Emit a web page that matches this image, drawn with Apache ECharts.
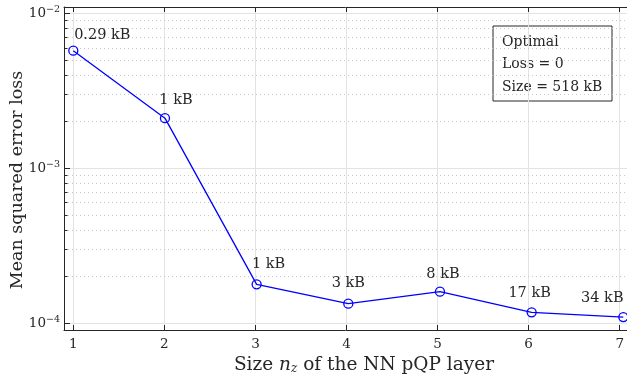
<!DOCTYPE html>
<html>
<head>
<meta charset="utf-8">
<script src="https://cdn.jsdelivr.net/npm/echarts@6/dist/echarts.min.js"></script>
<style>html,body{margin:0;padding:0;background:#fff}#c{width:627px;height:379px}</style>
</head>
<body>
<div id="c"></div>
<script>
// ---- data ----
var layerSizes = [1, 2, 3, 4, 5, 6, 7];
var mseLoss = [5.73e-3, 2.10e-3, 1.77e-4, 1.327e-4, 1.586e-4, 1.167e-4, 1.088e-4];
var sizeLabels = ['0.29 kB', '1 kB', '1 kB', '3 kB', '8 kB', '17 kB', '34 kB'];
var minorValues = [2e-4, 3e-4, 4e-4, 5e-4, 6e-4, 7e-4, 8e-4, 9e-4, 2e-3, 3e-3, 4e-3, 5e-3, 6e-3, 7e-3, 8e-3, 9e-3];
var boxLines = ['Optimal', 'Loss = 0', 'Size = 518 kB'];
var xTitle = '{a|Size }{i|n}{s|z}{a| of the NN pQP layer}';
var yTitle = 'Mean squared error loss';

// ---- layout ----
var labelOffsets = [[29, -15], [11, -18], [12, -20], [0, -20], [3, -17], [-2, -19], [-21, -18.5]];
var X_MIN = 1, X_MAX = 7;
var FONT = 'DejaVu Serif';
var TXT = '#262626';
var PL = 73.3, PW = 550;

var chart = echarts.init(document.getElementById('c'), null, {renderer: 'canvas'});

var lineData = layerSizes.map(function (x, i) {
  return {
    value: [x, mseLoss[i]],
    label: {show: true, formatter: sizeLabels[i], offset: labelOffsets[i]}
  };
});

var option = {
  animation: false,
  backgroundColor: '#fff',
  grid: [
    // frame box
    {left: 64, top: 7, width: 568.5, height: 323, containLabel: false},
    // data decades 1e-4..1e-2
    {left: PL, top: 13.3, width: PW, height: 309.4, containLabel: false},
    // x ticks / grid
    {left: PL, top: 7, width: PW, height: 323, containLabel: false}
  ],
  xAxis: [
    {
      type: 'value', gridIndex: 0, min: 0, max: 1, show: true,
      axisLine: {show: true, onZero: false, lineStyle: {color: TXT, width: 1}},
      axisTick: {show: false}, axisLabel: {show: false}, splitLine: {show: false}
    },
    {
      type: 'value', gridIndex: 0, position: 'top', min: 0, max: 1,
      axisLine: {show: true, onZero: false, lineStyle: {color: TXT, width: 1}},
      axisTick: {show: false}, axisLabel: {show: false}, splitLine: {show: false}
    },
    {
      type: 'value', gridIndex: 1, min: X_MIN, max: X_MAX, interval: 1, show: false
    },
    {
      type: 'value', gridIndex: 2, min: X_MIN, max: X_MAX, interval: 1,
      axisLine: {show: false, onZero: false},
      axisTick: {show: true, inside: true, length: 5, lineStyle: {color: TXT}},
      axisLabel: {margin: 7, color: TXT, fontFamily: FONT, fontSize: 13.5},
      splitLine: {show: true, lineStyle: {color: '#e3e3e3', width: 1}}
    },
    {
      type: 'value', gridIndex: 2, position: 'top', min: X_MIN, max: X_MAX, interval: 1,
      axisLine: {show: false, onZero: false},
      axisTick: {show: true, inside: true, length: 5, lineStyle: {color: TXT}},
      axisLabel: {show: false}, splitLine: {show: false}
    }
  ],
  yAxis: [
    {
      type: 'value', gridIndex: 0, min: 0, max: 1,
      axisLine: {show: true, onZero: false, lineStyle: {color: TXT, width: 1}},
      axisTick: {show: false}, axisLabel: {show: false}, splitLine: {show: false}
    },
    {
      type: 'log', logBase: 10, gridIndex: 1, min: 1e-4, max: 1e-2,
      axisLine: {show: false}, axisTick: {show: false}, axisLabel: {show: false}, splitLine: {show: false}
    },
    {
      type: 'value', gridIndex: 2, min: 0, max: 1, show: false
    }
  ],
  series: [
    {
      // major/minor y grid lines, ticks and labels on the log scale
      type: 'custom', xAxisIndex: 2, yAxisIndex: 1, z: 1, silent: true, clip: false,
      data: minorValues.map(function (v) { return [X_MIN, v, 0]; })
        .concat([1e-4, 1e-3, 1e-2].map(function (v) { return [X_MIN, v, 1]; })),
      renderItem: function (params, api) {
        var v = api.value(1);
        var major = api.value(2) === 1;
        var p = api.coord([X_MIN, v]);
        var y = Math.round(p[1]) + 0.5;
        var x0 = 64, x1 = 632.5;
        var kids = [
          {type: 'line', shape: {x1: x0, y1: y, x2: x1, y2: y},
           style: major ? {stroke: '#e3e3e3', lineWidth: 1} : {stroke: '#c8c8c8', lineWidth: 1, lineDash: [1, 3]}},
          {type: 'line', shape: {x1: x0, y1: y, x2: x0 + (major ? 6 : 3.5), y2: y},
           style: {stroke: TXT, lineWidth: 1}}
        ];
        if (major) {
          var e = Math.round(Math.log10(v));
          kids.push({
            type: 'text', x: x0 - 4, y: y,
            style: {
              text: '{b|10}{e|\u2212' + (-e) + '}',
              align: 'right', verticalAlign: 'middle',
              rich: {
                b: {fontFamily: FONT, fontSize: 13.5, fill: TXT, color: TXT},
                e: {fontFamily: FONT, fontSize: 9.5, fill: TXT, color: TXT, verticalAlign: 'top', padding: [0, 0, 8, 0]}
              }
            }
          });
        }
        return {type: 'group', children: kids};
      }
    },
    {
      type: 'line', xAxisIndex: 2, yAxisIndex: 1, z: 5,
      data: lineData,
      symbol: 'circle', symbolSize: 9,
      lineStyle: {color: '#0000ff', width: 1.3},
      itemStyle: {color: 'rgba(0,0,0,0)', borderColor: '#0000ff', borderWidth: 1.3},
      label: {
        show: true, position: 'inside', align: 'center', verticalAlign: 'middle',
        color: TXT, fontFamily: FONT, fontSize: 14.5
      },
      emphasis: {disabled: true}
    }
  ],
  graphic: [
    {
      type: 'text', x: 364, y: 365.5, z: 100,
      style: {
        text: xTitle, align: 'center', verticalAlign: 'middle', fill: TXT,
        font: '18.5px "DejaVu Serif"',
        rich: {
          a: {fontFamily: FONT, fontSize: 18.5, fill: TXT},
          i: {fontFamily: FONT, fontSize: 18.5, fontStyle: 'italic', fill: TXT},
          s: {fontFamily: FONT, fontSize: 12, fontStyle: 'italic', fill: TXT, verticalAlign: 'bottom', padding: [7, 0, 0, 0]}
        }
      }
    },
    {
      type: 'text', x: 17.5, y: 180, rotation: Math.PI / 2, z: 100,
      style: {
        text: yTitle, align: 'center', verticalAlign: 'middle', fill: TXT,
        font: '17.5px "DejaVu Serif"'
      }
    },
    {
      type: 'group', left: 492.5, top: 25.5, z: 100,
      children: [
        {type: 'rect', shape: {x: 0, y: 0, width: 119, height: 75},
         style: {fill: '#fff', stroke: TXT, lineWidth: 1}},
        {type: 'text', x: 9, y: 16, style: {text: boxLines[0], font: '14px "DejaVu Serif"', fill: TXT, verticalAlign: 'middle'}},
        {type: 'text', x: 9, y: 38, style: {text: boxLines[1], font: '14px "DejaVu Serif"', fill: TXT, verticalAlign: 'middle'}},
        {type: 'text', x: 9, y: 61, style: {text: boxLines[2], font: '14px "DejaVu Serif"', fill: TXT, verticalAlign: 'middle'}}
      ]
    }
  ]
};
chart.setOption(option);
</script>
</body>
</html>
